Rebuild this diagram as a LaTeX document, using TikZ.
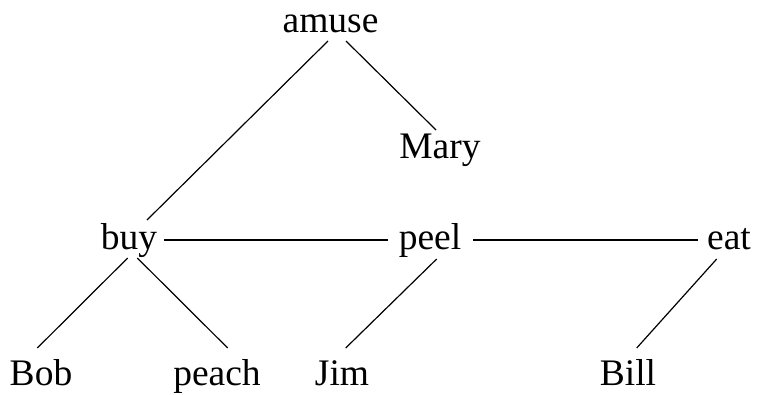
\documentclass[tikz,border=0pt]{standalone}
\usepackage{fontspec}
\setmainfont{Liberation Serif}
\begin{document}
\begin{tikzpicture}[x=1pt,y=-1pt,
  word/.style={anchor=base,inner sep=0pt,font=\fontsize{37.5}{40}\selectfont},
  edge/.style={line width=1.2pt,black}]
\useasboundingbox (0,0) rectangle (757,394);
\node[word] (amuse) at (330.5,32) {amuse};
\node[word] (mary) at (440,158) {Mary};
\node[word] (buy) at (129,249) {buy};
\node[word] (peel) at (430,249) {peel};
\node[word] (eat) at (729,249) {eat};
\node[word] (bob) at (41,385) {Bob};
\node[word] (peach) at (217,385) {peach};
\node[word] (jim) at (342,385) {Jim};
\node[word] (bill) at (628,385) {Bill};
\draw[edge] ([xshift=-2.5pt,yshift=-9pt]amuse.base) -- ([xshift=18pt,yshift=29pt]buy.base);
\draw[edge] ([xshift=15.5pt,yshift=-9pt]amuse.base) -- ([xshift=-4pt,yshift=28pt]mary.base);
\draw[edge] ([xshift=35pt,yshift=9pt]buy.base) -- ([xshift=-42pt,yshift=9pt]peel.base);
\draw[edge] ([xshift=43pt,yshift=9pt]peel.base) -- ([xshift=-31pt,yshift=9pt]eat.base);
\draw[edge] ([xshift=-1.3pt,yshift=-9pt]buy.base) -- ([xshift=-3.7pt,yshift=37pt]bob.base);
\draw[edge] ([xshift=8.3pt,yshift=-9pt]buy.base) -- ([xshift=10.7pt,yshift=37pt]peach.base);
\draw[edge] ([xshift=6.7pt,yshift=-10pt]peel.base) -- ([xshift=3.7pt,yshift=37pt]jim.base);
\draw[edge] ([xshift=-12.3pt,yshift=-10pt]eat.base) -- ([xshift=8.7pt,yshift=37pt]bill.base);
\end{tikzpicture}
\end{document}
